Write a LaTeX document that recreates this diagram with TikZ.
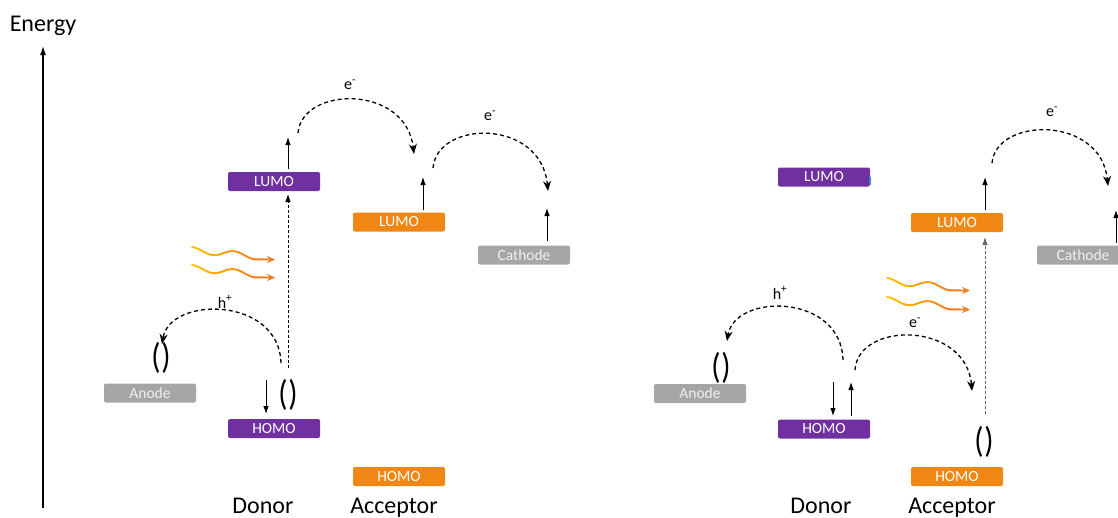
\documentclass[tikz,border=0pt]{standalone}
\usepackage{fontspec}
\setmainfont{Carlito}
\usetikzlibrary{arrows.meta}
\definecolor{dpurple}{RGB}{112,48,160}
\definecolor{aorange}{RGB}{240,134,20}
\definecolor{egrey}{RGB}{166,166,166}
\definecolor{wyellow}{RGB}{255,194,0}
\definecolor{worange}{RGB}{242,122,30}
\definecolor{sliver}{RGB}{70,130,210}
\newcommand\myphoton[2]{%
  \foreach \i in {0,...,13}{%
    \pgfmathsetmacro\da{\i*4.5}%
    \pgfmathsetmacro\db{\i*4.5+4.6}%
    \pgfmathtruncatemacro\pc{100-\i*7}%
    \draw[line width=1.9pt, line cap=round, color=wyellow!\pc!worange]
      plot[domain=\da:\db, samples=5, smooth] ({#1+\x},{#2+0.1*\x-3*cos(\x*8.57)});
  }%
  \draw[line width=1.9pt, color=worange, -{Stealth[length=8pt,width=7pt]}]
    ({#1+63},{#2+9.3}) -- ({#1+83},{#2+9.6});
}
\newcommand\pp{\scalebox{0.95}[1.12]{(\kern1pt)}}
\begin{document}
\begin{tikzpicture}[x=1pt,y=-1pt,
  level/.style={rounded corners=2pt, minimum width=92pt, minimum height=19pt, inner sep=0pt, text=white, font=\fontsize{15.5}{18}\selectfont},
  dlevel/.style={level, fill=dpurple},
  alevel/.style={level, fill=aorange},
  elevel/.style={level, fill=egrey, text=white!94!black},
  big/.style={font=\fontsize{24}{28}\selectfont, inner sep=0pt, anchor=base},
  paren/.style={font=\fontsize{32}{36}\selectfont, inner sep=0pt},
  charge/.style={font=\fontsize{16}{19}\selectfont, inner sep=0pt},
  solidarr/.style={line width=0.9pt, -{Latex[length=8pt,width=5.5pt]}},
  transfer/.style={line width=1.3pt, dash pattern=on 4pt off 3pt, -{Stealth[length=10pt,width=8pt]}},
  excite/.style={line width=0.8pt, dash pattern=on 3pt off 2pt, -{Latex[length=8pt,width=5.5pt]}},
]
\useasboundingbox (0,0) rectangle (1118,517);

% energy axis
\node[big] (energy) at (43,31) {Energy};
\coordinate (axb) at (43,508);
\coordinate (axt) at (43,46);
\draw[line width=1.3pt, -{Latex[length=9pt,width=6pt]}] (axb) -- (axt);

% ================= left panel =================
\node[dlevel] (dL1) at (274,181.5) {LUMO};
\node[alevel] (aL1) at (399,222) {LUMO};
\node[elevel] (cat1) at (524,255) {Cathode};
\node[elevel] (an1) at (150,393) {Anode};
\node[dlevel] (dH1) at (274,428.5) {HOMO};
\node[alevel] (aH1) at (399,476.5) {HOMO};
\node[big] (don1) at (263,513) {Donor};
\node[big] (acc1) at (394,513) {Acceptor};

\node[paren] (p1a) at (161,358) {\pp};
\node[paren] (p1b) at (288,395) {\pp};

\coordinate (u1a) at (288,169); \coordinate (u1b) at (288,137);
\draw[solidarr] (u1a) -- (u1b);
\coordinate (x1a) at (288,368); \coordinate (x1b) at (288,194);
\draw[excite] (x1a) -- (x1b);
\coordinate (u2a) at (423,210); \coordinate (u2b) at (423,177);
\draw[solidarr] (u2a) -- (u2b);
\coordinate (u3a) at (547,241); \coordinate (u3b) at (547,208);
\draw[solidarr] (u3a) -- (u3b);
\coordinate (d1a) at (266,380); \coordinate (d1b) at (266,414);
\draw[solidarr] (d1a) -- (d1b);

\coordinate (e1s) at (298,133); \coordinate (e1e) at (414,154);
\draw[transfer] (e1s) .. controls (302,86) and (406,84) .. (e1e);
\node[charge] (le1) at (350,85) {e\textsuperscript{-}};
\coordinate (e2s) at (433,168); \coordinate (e2e) at (548,191);
\draw[transfer] (e2s) .. controls (437,120) and (541,118) .. (e2e);
\node[charge] (le2) at (490,116) {e\textsuperscript{-}};
\coordinate (h1s) at (281,363); \coordinate (h1e) at (162,344);
\draw[transfer] (h1s) .. controls (279,296) and (170,296) .. (h1e);
\node[charge] (lh1) at (225,302) {h\textsuperscript{+}};

\myphoton{192}{250}
\myphoton{192}{268}

% ================= right panel =================
\node[dlevel] (dL2) at (824,177) {LUMO};
\fill[sliver] (869,177) rectangle (871,185);
\node[alevel] (aL2) at (957,222.5) {LUMO};
\node[elevel] (cat2) at (1083,255) {Cathode};
\node[elevel] (an2) at (700,393.5) {Anode};
\node[dlevel] (dH2) at (824,429) {HOMO};
\node[alevel] (aH2) at (957,476.5) {HOMO};
\node[big] (don2) at (821,513) {Donor};
\node[big] (acc2) at (952,513) {Acceptor};

\node[paren] (p2a) at (721,368) {\pp};
\node[paren] (p2b) at (984,442) {\pp};

\coordinate (v1a) at (985,210); \coordinate (v1b) at (985,177);
\draw[solidarr] (v1a) -- (v1b);
\coordinate (x2a) at (985,414); \coordinate (x2b) at (985,237);
\draw[excite, draw=black!60, fill=black!60] (x2a) -- (x2b);
\coordinate (v2a) at (1116,243); \coordinate (v2b) at (1116,210);
\draw[solidarr] (v2a) -- (v2b);
\coordinate (d2a) at (833,382); \coordinate (d2b) at (833,416);
\draw[solidarr] (d2a) -- (d2b);
\coordinate (v3a) at (851,416); \coordinate (v3b) at (851,382);
\draw[solidarr] (v3a) -- (v3b);

\coordinate (e3s) at (992,163); \coordinate (e3e) at (1108,186);
\draw[transfer] (e3s) .. controls (996,117) and (1101,115) .. (e3e);
\node[charge] (le3) at (1052,112) {e\textsuperscript{-}};
\coordinate (h2s) at (843,360); \coordinate (h2e) at (727,341);
\draw[transfer] (h2s) .. controls (841,293) and (735,293) .. (h2e);
\node[charge] (lh2) at (780,293) {h\textsuperscript{+}};
\coordinate (e4s) at (855,370); \coordinate (e4e) at (972,391);
\draw[transfer] (e4s) .. controls (858,321) and (966,321) .. (e4e);
\node[charge] (le4) at (915,323) {e\textsuperscript{-}};

\myphoton{887}{281}
\myphoton{887}{300}
\end{tikzpicture}
\end{document}
